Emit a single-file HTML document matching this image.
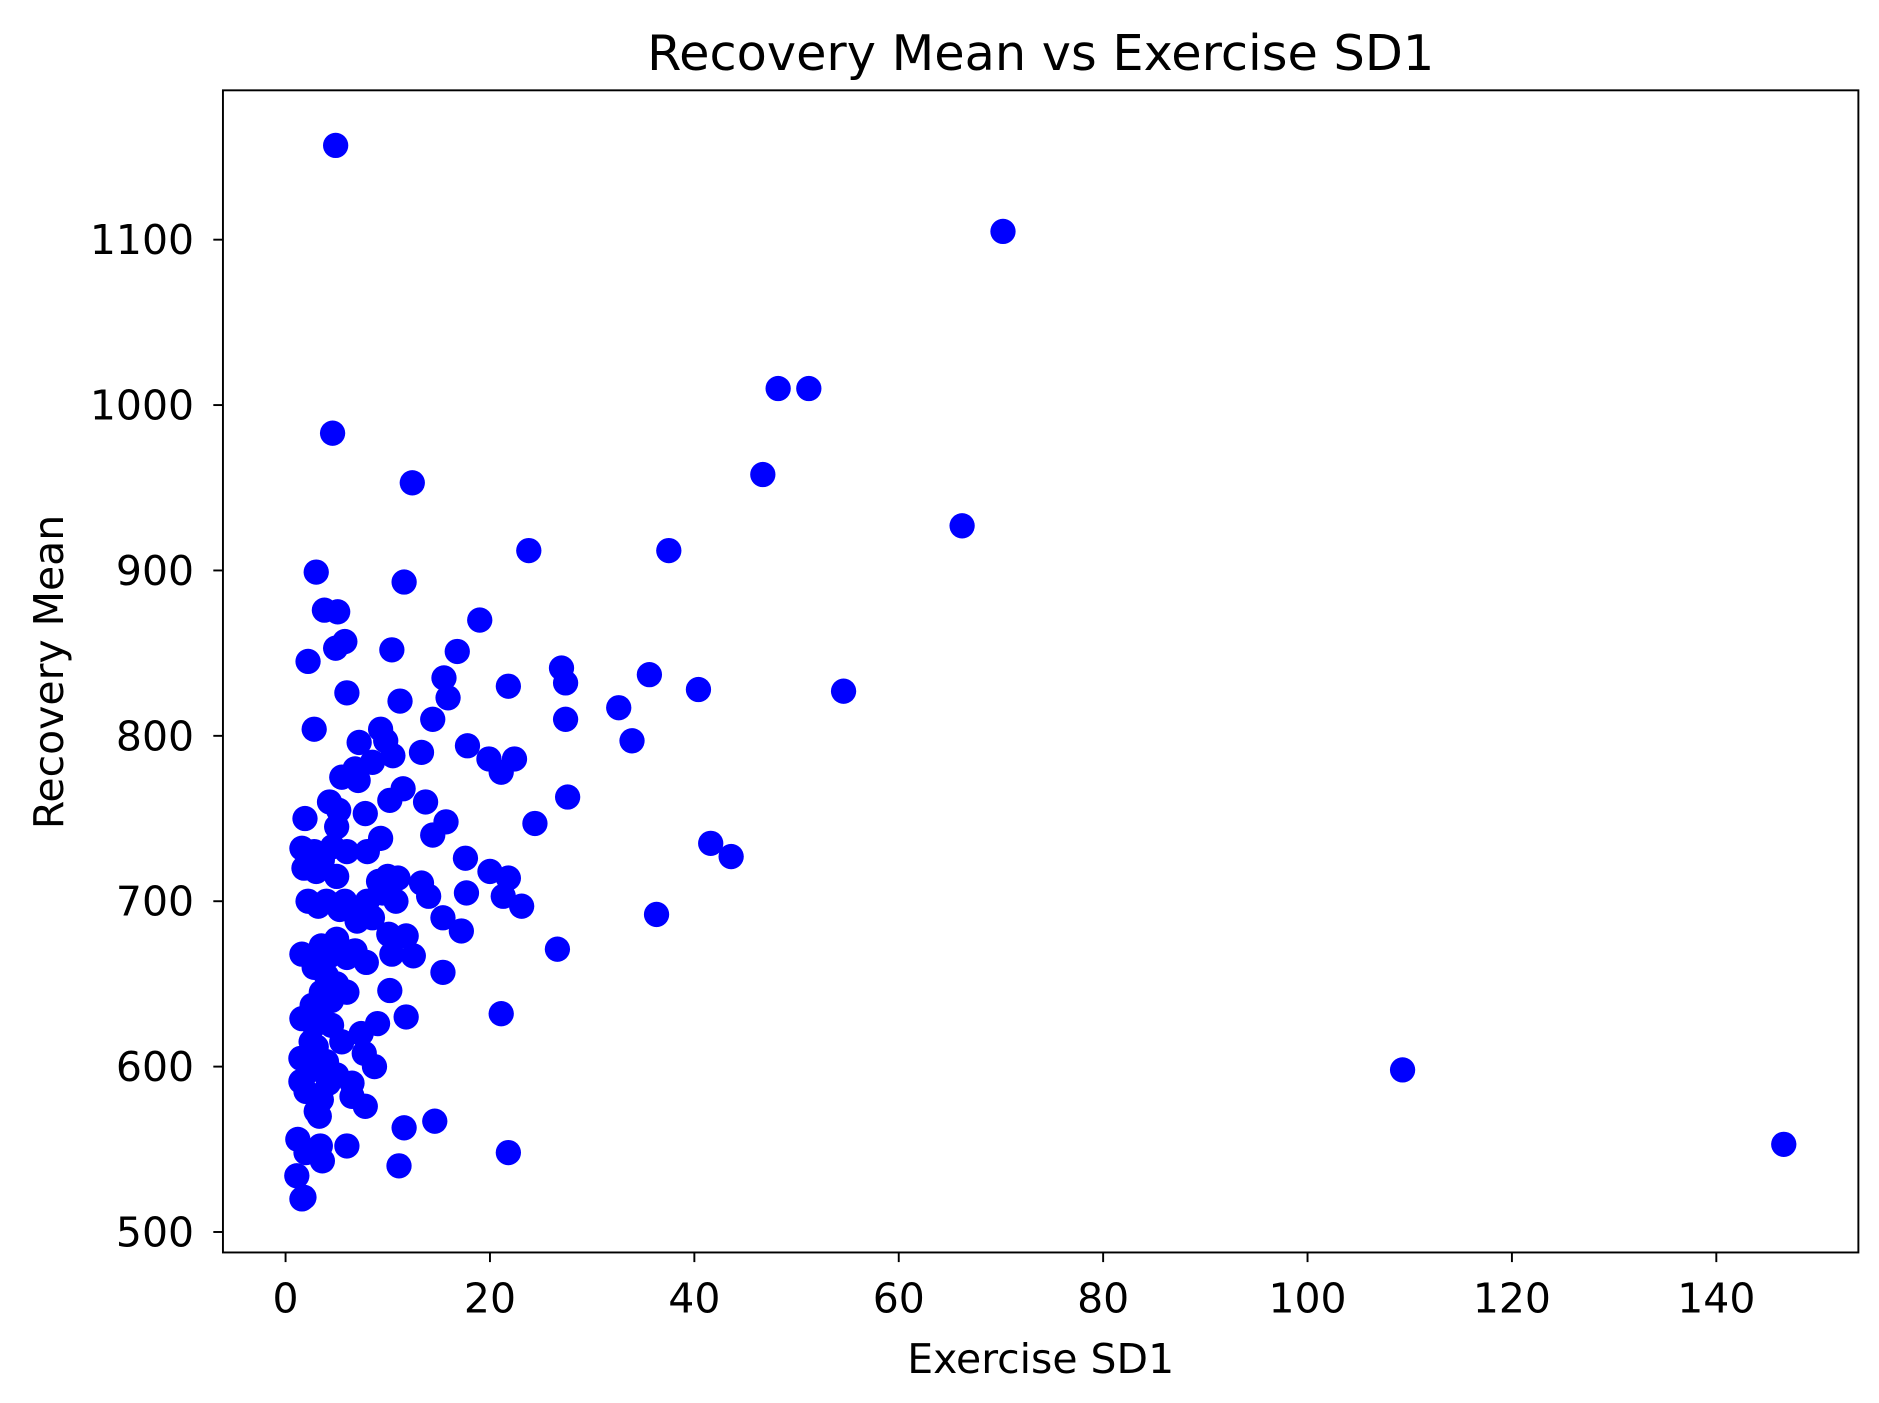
<!DOCTYPE html>
<html><head><meta charset="utf-8"><style>html,body{margin:0;padding:0;background:#fff}svg{display:block}text{font-family:"DejaVu Sans","Liberation Sans",sans-serif;fill:#000}</style></head>
<body>
<svg id="chart" width="1879" height="1403" viewBox="0 0 1560 1165" xmlns="http://www.w3.org/2000/svg">
<rect width="1560" height="1165" fill="#fff"/>
<text x="864" y="58" font-size="41" text-anchor="middle">Recovery Mean vs Exercise SD1</text>
<g id="points"></g>
<g id="axes"></g>
<rect x="185" y="75" width="1358" height="965" fill="none" stroke="#000" stroke-width="1.6"/>
<text x="864" y="1140" font-size="34" text-anchor="middle">Exercise SD1</text>
<text x="0" y="0" font-size="34" text-anchor="middle" transform="translate(52 558) rotate(-90)">Recovery Mean</text>
</svg>
<script>
const xTicks=[0,20,40,60,80,100,120,140];
const yTicks=[500,600,700,800,900,1000,1100];
const xs=[4.9,70.2,48.2,51.2,4.6,12.4,46.7,66.2,23.8,37.5,3,11.6,3.8,5.1,19,5.8,4.9,10.4,16.8,2.2,27,35.6,15.5,21.8,27.4,15.9,6,11.2,40.4,54.6,32.6,14.4,27.4,2.8,9.3,33.9,7.2,9.8,17.8,13.3,10.5,19.9,22.4,21.1,6.8,8.5,5.5,7.1,11.5,10.2,13.7,27.6,4.3,5.2,1.9,7.8,15.7,24.4,5,14.4,41.6,9.3,43.6,1.6,2.8,4.6,6,8,17.6,20,21.8,1.8,3,5,10,11,13.3,9.5,4,2.2,3.2,6,8,10.8,14,17.7,21.3,23.1,36.3,15.4,5.3,7,8.5,17.2,10.1,11.8,5,3.5,4.3,1.6,6,26.6,10.4,12.5,7.9,2.8,4,15.4,5,6,3.5,10.2,2.6,3.3,1.6,11.8,21.1,9,4.5,7.4,5.5,3,7.7,1.5,4,2.5,8.7,109.3,5,1.5,6.5,2,3.5,6.5,7.8,3,3.3,14.6,11.6,1.2,146.6,6,3.4,21.8,2,3.6,11.1,1.1,1.8,1.6,2.5,4.2,2.8,5.8,3.6,4.5,6.8,9.1];
const ys=[1157,1105,1010,1010,983,953,958,927,912,912,899,893,876,875,870,857,853,852,851,845,841,837,835,830,832,823,826,821,828,827,817,810,810,804,804,797,796,797,794,790,788,786,786,778,780,784,775,773,768,761,760,763,760,755,750,753,748,747,745,740,735,738,727,732,730,733,730,730,726,718,714,720,718,715,715,714,711,705,700,700,697,697,700,700,703,705,703,697,692,690,695,688,690,682,680,679,677,673,667,668,666,671,668,667,663,660,655,657,650,645,645,646,637,630,629,630,632,626,625,620,615,612,608,605,603,598,600,598,595,591,590,585,580,582,576,573,570,567,563,556,553,552,552,548,548,543,540,534,521,520,615,590,625,700,725,640,670,712];
const NS="http://www.w3.org/2000/svg";
const X=v=>237+v*8.486, Y=v=>1023-(v-500)*1.3733;
const pg=document.getElementById('points');
for(let i=0;i<xs.length;i++){const c=document.createElementNS(NS,'circle');


c.setAttribute('cx',X(xs[i]));c.setAttribute('cy',Y(ys[i]));c.setAttribute('r',10.5);c.setAttribute('fill','#0000ff');pg.appendChild(c);}
const ag=document.getElementById('axes');
xTicks.forEach(t=>{const l=document.createElementNS(NS,'line');


l.setAttribute('x1',X(t));l.setAttribute('x2',X(t));l.setAttribute('y1',1040);l.setAttribute('y2',1048);l.setAttribute('stroke','#000');l.setAttribute('stroke-width','1.6');ag.appendChild(l);
const tx=document.createElementNS(NS,'text');


tx.setAttribute('x',X(t));tx.setAttribute('y',1090);tx.setAttribute('font-size','34');tx.setAttribute('text-anchor','middle');tx.textContent=t;ag.appendChild(tx);});
yTicks.forEach(t=>{const l=document.createElementNS(NS,'line');


l.setAttribute('x1',177);l.setAttribute('x2',185);l.setAttribute('y1',Y(t));l.setAttribute('y2',Y(t));l.setAttribute('stroke','#000');l.setAttribute('stroke-width','1.6');ag.appendChild(l);
const tx=document.createElementNS(NS,'text');


tx.setAttribute('x',161);tx.setAttribute('y',Y(t)+12);tx.setAttribute('font-size','34');tx.setAttribute('text-anchor','end');tx.textContent=t;ag.appendChild(tx);});
</script>
</body></html>
